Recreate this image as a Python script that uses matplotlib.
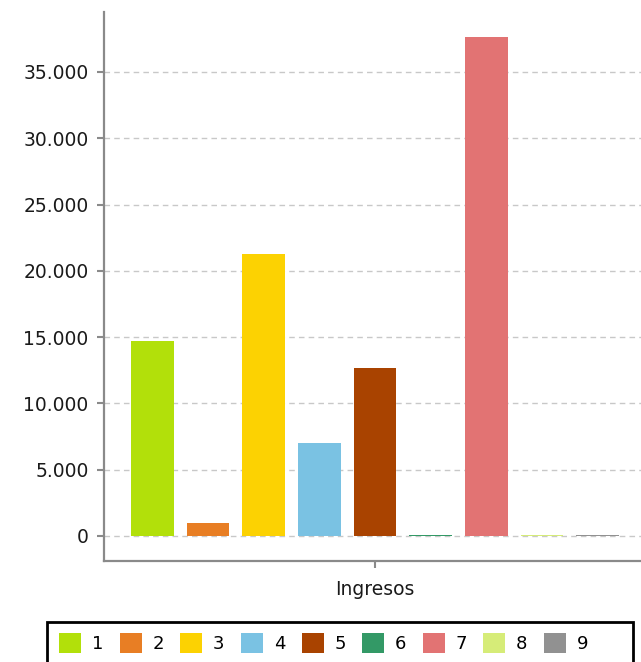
import matplotlib.pyplot as plt
from matplotlib.ticker import FuncFormatter
from matplotlib.patches import Patch, Rectangle

# datos
categoria = 'Ingresos'
series = ['1', '2', '3', '4', '5', '6', '7', '8', '9']
valores = [14700, 1000, 21250, 7000, 12650, 40, 37650, 40, 40]
colores = ['#B2E00A', '#E87E24', '#FCD202', '#7AC2E3', '#A94300',
           '#339966', '#E27373', '#D6EC78', '#919191']

plt.rcParams['font.family'] = ['DejaVu Sans']

fig = plt.figure(figsize=(6.41, 6.62), dpi=100)
ax = fig.add_axes([104 / 641, 1 - 561 / 662, 1 - 104 / 641, (561 - 12) / 662])

pos = [i - 4 for i in range(len(series))]
ax.bar(pos, valores, width=0.77, color=colores, zorder=3)

ax.set_xlim(-4.87, 4.78)
ax.set_ylim(-1890, 39520)
ax.set_yticks(range(0, 35001, 5000))
ax.yaxis.set_major_formatter(FuncFormatter(lambda v, p: f'{int(v):,}'.replace(',', '.')))
ax.set_xticks([0])
ax.set_xticklabels([categoria])

ax.grid(axis='y', color='#c8c8c8', linestyle=(0, (4, 3)), linewidth=1, zorder=1)
for s in ['top', 'right']:
    ax.spines[s].set_visible(False)
for s in ['left', 'bottom']:
    ax.spines[s].set_color('#8a8a8a')
    ax.spines[s].set_linewidth(1.6)
ax.tick_params(axis='both', colors='#8a8a8a', labelcolor='#1a1a1a',
               length=5, width=1.5, labelsize=13.5)
ax.tick_params(axis='y', pad=6)
ax.tick_params(axis='x', pad=9)

# leyenda (sin marco propio, el marco se dibuja aparte)
handles = [Patch(facecolor=c, edgecolor='none') for c in colores]
leg = fig.legend(handles, series, loc='center left', bbox_to_anchor=(52 / 641, 1 - 643 / 662),
                 ncol=9, fontsize=13, frameon=False,
                 handlelength=1.22, handleheight=1.3, handletextpad=0.6,
                 columnspacing=0.9, borderaxespad=0)
fig.patches.append(Rectangle((47 / 641, -10 / 662), (633 - 47) / 641, (672 - 622) / 662,
                             transform=fig.transFigure, fill=False,
                             edgecolor='black', linewidth=2))

fig.savefig('out.png', dpi=100)
